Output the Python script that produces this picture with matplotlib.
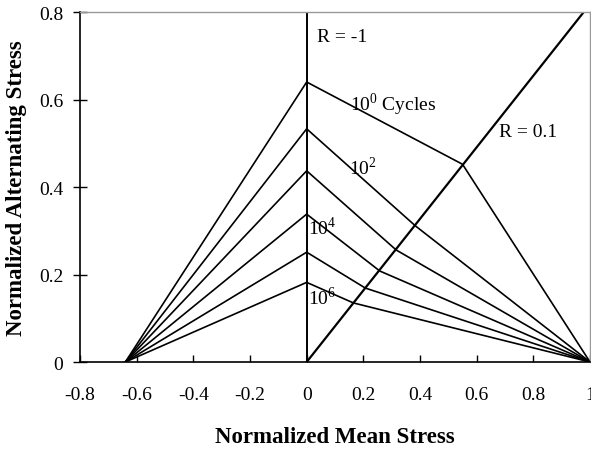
import matplotlib
matplotlib.use("Agg")
import matplotlib.pyplot as plt
import numpy as np

# Goodman-type constant life lines, normalized stresses
left_x = -0.64
peak_amp = [0.64, 0.533, 0.437, 0.338, 0.251, 0.182]
knee_mean = [0.55, 0.384, 0.316, 0.258, 0.207, 0.165]
knee_amp = [0.452, 0.311, 0.256, 0.208, 0.169, 0.135]
right_x = 1.0

r01_x = [0.0, 0.978]
r01_y = [0.0, 0.8]

xticks = [-0.8, -0.6, -0.4, -0.2, 0, 0.2, 0.4, 0.6, 0.8, 1]
xtick_labels = ["-0.8", "-0.6", "-0.4", "-0.2", "0", "0.2", "0.4", "0.6", "0.8", "1"]
yticks = [0, 0.2, 0.4, 0.6, 0.8]
ytick_labels = ["0", "0.2", "0.4", "0.6", "0.8"]

plt.rcParams["font.family"] = ["Liberation Serif", "DejaVu Serif"]
plt.rcParams["mathtext.fontset"] = "custom"
plt.rcParams["mathtext.rm"] = "Liberation Serif"

fig = plt.figure(figsize=(5.91, 4.52), dpi=100)
ax = fig.add_axes([0.1354, 0.1969, 0.8629, 0.7743])

for p, km, ka in zip(peak_amp, knee_mean, knee_amp):
    ax.plot([left_x, 0, km, right_x], [0, p, ka, 0], color="black", lw=1.2)

ax.plot([0, 0], [0, 0.8], color="black", lw=1.4)
ax.plot(r01_x, r01_y, color="black", lw=1.6)

ax.text(0.037, 0.745, "R = -1", fontsize=14, va="center", ha="left")
ax.text(0.154, 0.59, r"10$^{0}$ Cycles", fontsize=14, va="center", ha="left")
ax.text(0.68, 0.526, "R = 0.1", fontsize=14, va="center", ha="left")
ax.text(0.15, 0.446, r"10$^{2}$", fontsize=14, va="center", ha="left")
ax.text(0.006, 0.309, r"10$^{4}$", fontsize=14, va="center", ha="left")
ax.text(0.006, 0.15, r"10$^{6}$", fontsize=14, va="center", ha="left")

ax.set_xlim(-0.8, 1.0)
ax.set_ylim(0, 0.8)
ax.set_xticks(xticks)
ax.set_xticklabels(xtick_labels)
ax.set_yticks(yticks)
ax.set_yticklabels(ytick_labels)
ax.tick_params(axis="x", direction="in", length=5, width=1, pad=17, labelsize=14)
ax.tick_params(axis="y", direction="inout", length=10, width=1, pad=7, labelsize=14)

for s in ["left", "bottom"]:
    ax.spines[s].set_linewidth(1.2)
for s in ["top", "right"]:
    ax.spines[s].set_color("#999999")
    ax.spines[s].set_linewidth(1.0)

ax.set_xlabel("Normalized Mean Stress", fontsize=16.5, fontweight="bold")
ax.set_ylabel("Normalized Alternating Stress", fontsize=16.5, fontweight="bold")
ax.xaxis.set_label_coords(0.5, -0.183)
ax.yaxis.set_label_coords(-0.104, 0.5)

fig.savefig("out.png", dpi=100)
